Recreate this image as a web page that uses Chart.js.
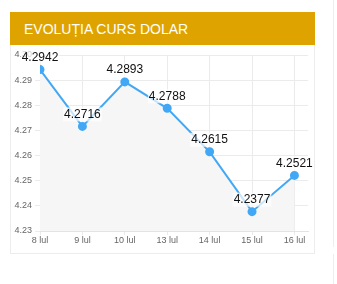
<!DOCTYPE html>
<html>
<head>
<meta charset="utf-8">
<script src="https://cdn.jsdelivr.net/npm/chart.js@4.4.0/dist/chart.umd.min.js"></script>
<style>
  html, body { margin: 0; padding: 0; background: #fff; }
  body { width: 337px; height: 284px; position: relative; overflow: hidden; font-family: "Liberation Sans", Arial, sans-serif; }
  .head { position: absolute; left: 10px; top: 12px; width: 305px; height: 33px; background: #dfa300; color: #fff; font-size: 14px; line-height: 34px; box-sizing: border-box; padding-left: 14px; }
  .box { position: absolute; left: 10px; top: 45px; width: 305px; height: 209px; border: 1px solid #ececec; border-top: none; box-sizing: border-box; }
  .box canvas { display: block; }
  .side { position: absolute; left: 333px; top: 0; height: 247px; border-left: 1px solid #eeeeee; }
  .side2 { position: absolute; left: 333px; top: 254px; height: 40px; border-left: 1px solid #eeeeee; }
</style>
</head>
<body>
<div class="head">EVOLUȚIA CURS DOLAR</div>
<div class="box"><canvas id="cursChart" width="303" height="208"></canvas></div>
<div class="side"></div>
<div class="side2"></div>
<script>
// zilele si cursul
const zile = ['8 lul', '9 lul', '10 lul', '13 lul', '14 lul', '15 lul', '16 lul'];
const curs = [4.2942, 4.2716, 4.2893, 4.2788, 4.2615, 4.2377, 4.2521];
const yTicks = [4.23, 4.24, 4.25, 4.26, 4.27, 4.28, 4.29, 4.30];

// etichete cu valoarea deasupra punctelor
const valoriPlugin = {
  id: 'valori',
  afterDatasetsDraw(chart) {
    const ctx = chart.ctx;
    const meta = chart.getDatasetMeta(0);
    ctx.save();
    ctx.font = '12px "Liberation Sans", Arial, sans-serif';
    ctx.textAlign = 'center';
    ctx.textBaseline = 'middle';
    meta.data.forEach((pt, i) => {
      const txt = curs[i].toFixed(4);
      const w = ctx.measureText(txt).width;
      const y = pt.y - 12;
      ctx.fillStyle = 'rgba(255,255,255,0.7)';
      ctx.fillRect(pt.x - w / 2 - 1, y - 7, w + 2, 14);
      ctx.fillStyle = '#111';
      ctx.fillText(txt, pt.x, y);
    });
    ctx.restore();
  }
};

const data = {
  datasets: [{
    data: curs.map((v, i) => ({ x: i, y: v })),
    fill: 'start',
    backgroundColor: '#f6f6f6',
    borderColor: '#42a8f5',
    borderWidth: 2,
    pointRadius: 3.5,
    pointBackgroundColor: '#42a8f5',
    pointBorderColor: '#42a8f5',
    tension: 0
  }]
};

const config = {
  type: 'line',
  data: data,
  options: {
    responsive: false,
    animation: false,
    layout: { padding: { top: 10, right: 0, left: 0, bottom: 0 } },
    plugins: {
      legend: { display: false },
      tooltip: { enabled: false }
    },
    scales: {
      x: {
        type: 'linear',
        min: 0,
        max: 6.32,
        afterBuildTicks: (scale) => { scale.ticks = zile.map((z, i) => ({ value: i })); },
        afterFit: (scale) => { scale.height = 22; },
        ticks: {
          autoSkip: false,
          maxRotation: 0,
          color: '#666',
          font: { size: 9, family: '"Liberation Sans", Arial, sans-serif' },
          padding: 0,
          callback: (v) => zile[v]
        },
        grid: { color: '#ebebeb', tickLength: 4 },
        border: { color: '#e3e3e3' }
      },
      y: {
        min: 4.23,
        max: 4.30,
        afterBuildTicks: (scale) => { scale.ticks = yTicks.map(v => ({ value: v })); },
        afterFit: (scale) => { scale.width = 29; },
        ticks: {
          color: '#666',
          font: { size: 9, family: '"Liberation Sans", Arial, sans-serif' },
          padding: 3,
          callback: (v) => v.toFixed(2)
        },
        grid: { color: '#ebebeb', tickLength: 5 },
        border: { color: '#e3e3e3' }
      }
    }
  },
  plugins: [valoriPlugin]
};

new Chart(document.getElementById('cursChart'), config);
</script>
</body>
</html>
